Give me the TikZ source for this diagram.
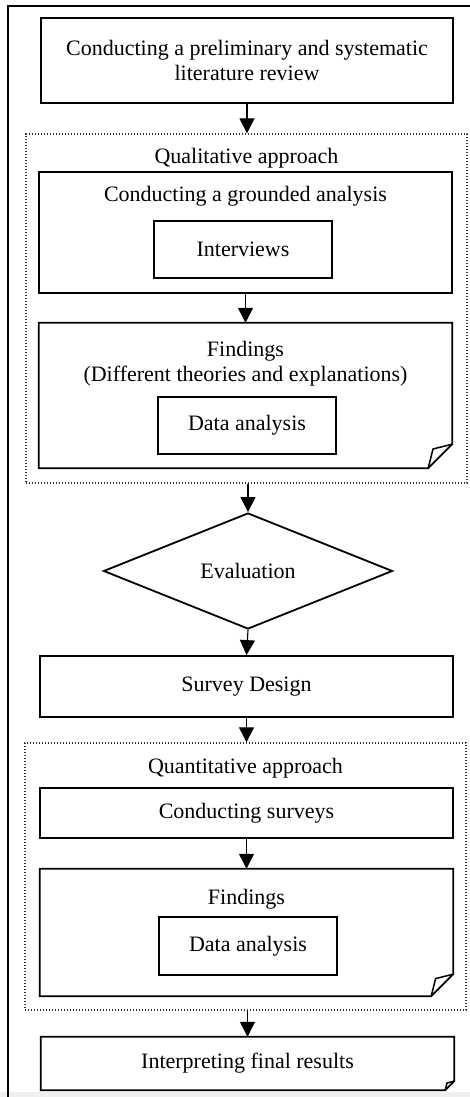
\documentclass[tikz,border=0pt]{standalone}
\usepackage{fontspec}
\setmainfont{Liberation Serif}
\usetikzlibrary{arrows.meta,shapes.geometric,calc}

% box outline with a folded bottom-right corner: node name, fold size
\newcommand\drawfold[2]{%
  \draw[line width=1.8pt, line join=miter]
    (#1.south west) -- (#1.north west) -- (#1.north east)
    -- ([yshift=#2]#1.south east) -- ([xshift=-#2]#1.south east) -- cycle;
  \draw[line width=1.5pt, line join=miter]
    ([xshift=-#2]#1.south east) -- ([xshift=-0.8*#2, yshift=0.8*#2]#1.south east)
    -- ([yshift=#2]#1.south east);
}

\begin{document}
\begin{tikzpicture}[x=1pt, y=-1pt,
  font=\fontsize{22}{25}\selectfont,
  box/.style={draw, line width=1.8pt, inner sep=0pt, align=center},
  plain/.style={draw=none, inner sep=0pt, align=center},
  frame/.style={draw=black!80, line width=1.4pt, dash pattern=on 1.4pt off 1.6pt, inner sep=0pt},
  flow/.style={line width=1.1pt, -{Triangle[width=15pt,length=15pt]}}]

\useasboundingbox (0,0) rectangle (470,1097);
\fill[black!6] (0,1092) rectangle (470,1097);

% outer frame
\draw[line width=1.8pt] (8,1097) -- (8,6) -- (470,6);

% literature review
\node[box, minimum width=412pt, minimum height=85pt] (lit) at (247,60.5)
  {Conducting a preliminary and systematic\\literature review};

% qualitative part
\node[frame, minimum width=441pt, minimum height=349pt] (qual) at (246.5,308.5) {};
\node[plain] (qualt) at (246.5,158) {Qualitative approach};
\node[box, minimum width=413pt, minimum height=121pt] (grnd) at (245.5,232.5) {};
\node[plain] (grndt) at (245.5,196) {Conducting a grounded analysis};
\node[box, minimum width=178pt, minimum height=57pt] (intv) at (243,249.5) {Interviews};
\node[plain, minimum width=413pt, minimum height=145pt] (find1) at (245.5,395.5) {};
\drawfold{find1}{24pt}
\node[plain] (find1t) at (245.5,364) {Findings\\(Different theories and explanations)};
\node[box, minimum width=178pt, minimum height=57pt] (data1) at (247,425.5) {Data analysis};

% evaluation and survey design
\node[draw, shape=diamond, line width=1.8pt, aspect=2.5, inner sep=0pt,
  minimum width=289pt, minimum height=116pt] (eval) at (248,571) {Evaluation};
\node[box, minimum width=413pt, minimum height=61pt] (surv) at (246.5,686.5) {Survey Design};

% quantitative part
\node[frame, minimum width=441pt, minimum height=267pt] (quan) at (245.5,876.5) {};
\node[plain] (quant) at (245.5,768) {Quantitative approach};
\node[box, minimum width=413pt, minimum height=50pt] (cond) at (246.5,813) {Conducting surveys};
\node[plain, minimum width=413pt, minimum height=127pt] (find2) at (246.5,932.5) {};
\drawfold{find2}{22pt}
\node[plain] (find2t) at (246.5,899) {Findings};
\node[box, minimum width=178pt, minimum height=58pt] (data2) at (248,946) {Data analysis};

% final step
\node[plain, minimum width=413pt, minimum height=53pt] (final) at (247.5,1063.5) {Interpreting final results};
\drawfold{final}{9pt}

% connectors
\draw[flow] (lit.south) -- (lit.south |- qual.north);
\draw[flow] (grnd.south) -- (find1.north);
\draw[flow] (qual.south -| eval.north) -- (eval.north);
\draw[flow] (eval.south) -- (surv.north);
\draw[flow] (surv.south) -- (surv.south |- quan.north);
\draw[flow] (cond.south) -- (find2.north);
\draw[flow] (quan.south -| final.north) -- (final.north);
\end{tikzpicture}
\end{document}
